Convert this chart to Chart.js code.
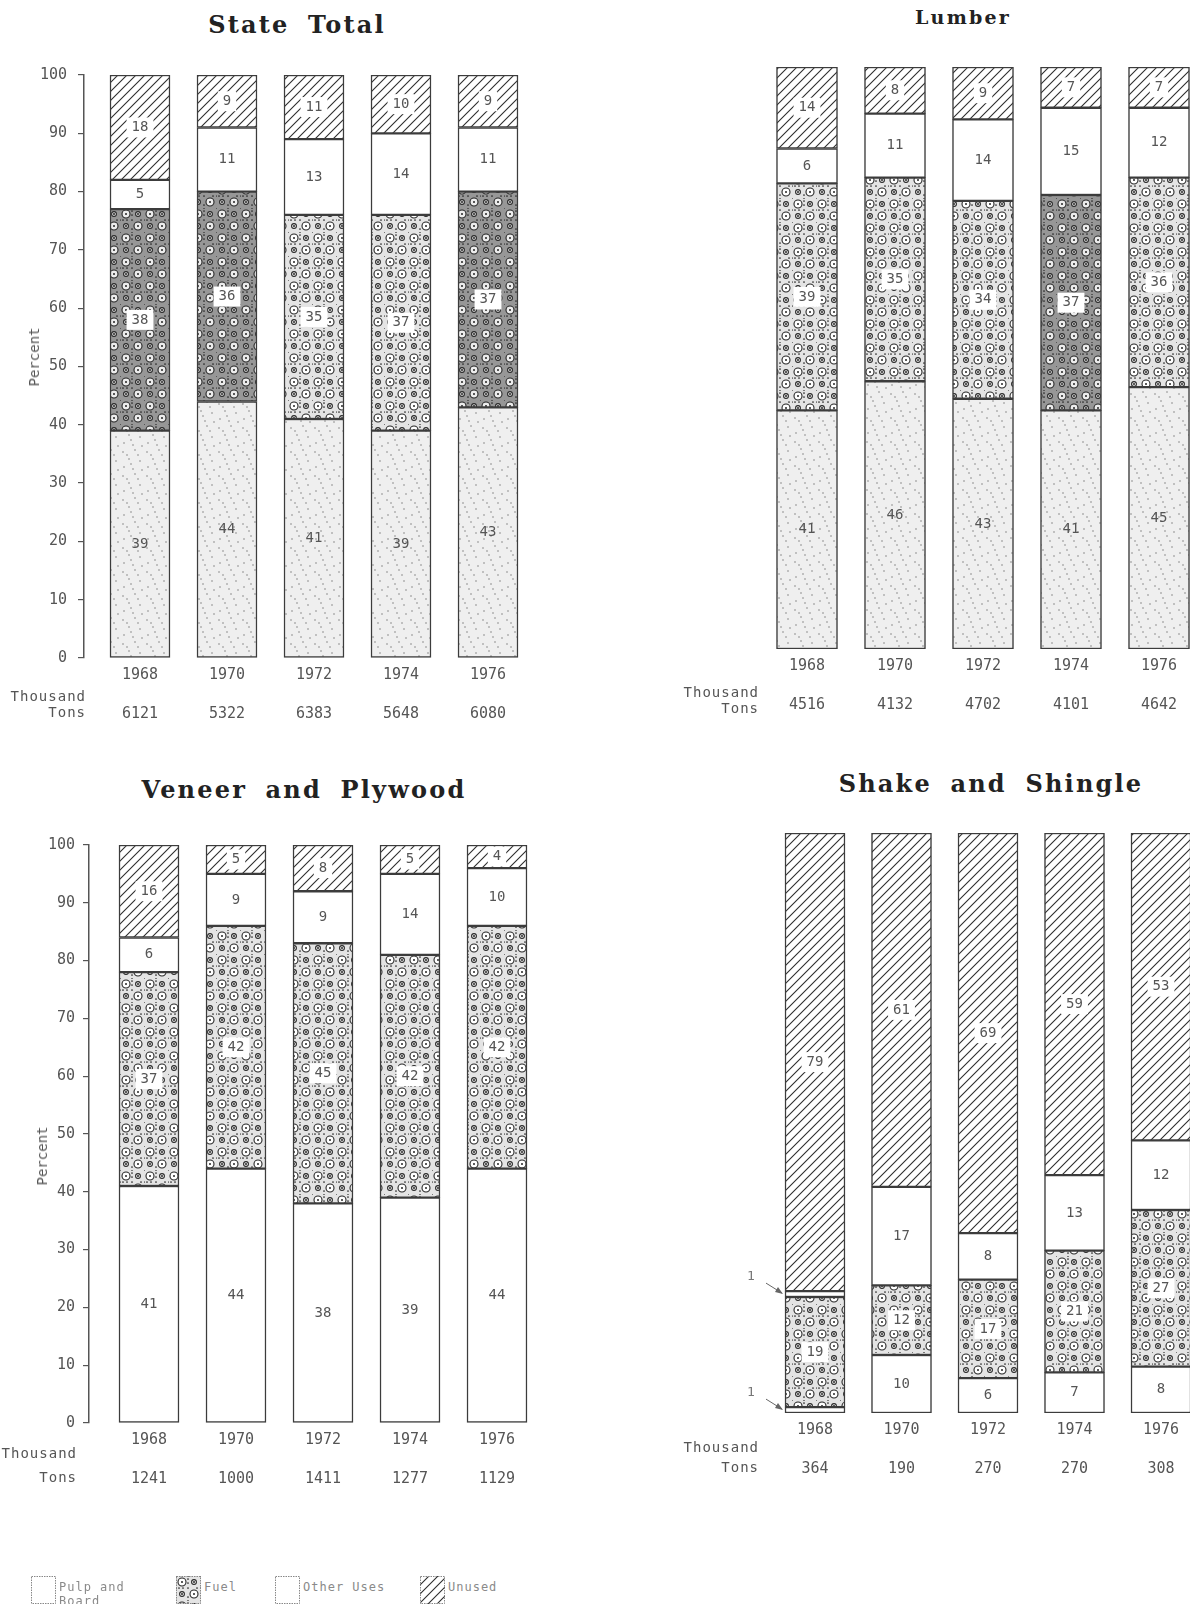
<!DOCTYPE html>
<html>
<head>
<meta charset="utf-8">
<script src="https://cdn.jsdelivr.net/npm/chart.js@4.4.0/dist/chart.umd.min.js"></script>
<style>
  body { margin: 0; background: #fff; width: 1190px; height: 1604px; position: relative; overflow: hidden; }
  canvas { position: absolute; }
  .title { position: absolute; transform: translate(-50%, -50%); white-space: nowrap;
    font-family: "DejaVu Serif", serif; font-weight: bold; font-size: 24px; letter-spacing: 2.2px; word-spacing: 8px; color: #222; }
  .txt { position: absolute; white-space: nowrap; font-family: "DejaVu Sans Mono", monospace; font-size: 14px; color: #555; line-height: 16px; }
  .right { text-align: right; letter-spacing: 1px; }
  .rot { transform: translate(-50%, -50%) rotate(-90deg); }
  .legend { color: #8a8a8a; font-size: 12px; line-height: 14px; letter-spacing: 1px; }
</style>
</head>
<body>
<script>
const years = ["1968", "1970", "1972", "1974", "1976"];
const seriesNames = ["Pulp and Board", "Fuel", "Other Uses", "Unused"];

// State Total
const stateTons = [6121, 5322, 6383, 5648, 6080];
const statePulp = [39, 44, 41, 39, 43];
const stateFuel = [38, 36, 35, 37, 37];
const stateOther = [5, 11, 13, 14, 11];
const stateUnused = [18, 9, 11, 10, 9];

// Lumber
const lumberTons = [4516, 4132, 4702, 4101, 4642];
const lumberPulp = [41, 46, 43, 41, 45];
const lumberFuel = [39, 35, 34, 37, 36];
const lumberOther = [6, 11, 14, 15, 12];
const lumberUnused = [14, 8, 9, 7, 7];

// Veneer and Plywood
const veneerTons = [1241, 1000, 1411, 1277, 1129];
const veneerPulp = [41, 44, 38, 39, 44];
const veneerFuel = [37, 42, 45, 42, 42];
const veneerOther = [6, 9, 9, 14, 10];
const veneerUnused = [16, 5, 8, 5, 4];

// Shake and Shingle
const shakeTons = [364, 190, 270, 270, 308];
const shakePulp = [1, 10, 6, 7, 8];
const shakeFuel = [19, 12, 17, 21, 27];
const shakeOther = [1, 17, 8, 13, 12];
const shakeUnused = [79, 61, 69, 59, 53];

const MONO = '"DejaVu Sans Mono", monospace';

const panels = [
  { title: "State Total", titleAt: [297, 24], titleSize: 24, tons: stateTons,
    values: [statePulp, stateFuel, stateOther, stateUnused],
    box: { x: 0, y: 40, w: 560, h: 690 }, area: { left: 84, right: 545, top: 75, bottom: 658 },
    first: 140, step: 87, barWidth: 60, yAxis: true, tickPad: 11, stipple: true,
    darkFuel: [true, true, false, false, true] },
  { title: "Lumber", titleAt: [963, 17], titleSize: 19, tons: lumberTons,
    values: [lumberPulp, lumberFuel, lumberOther, lumberUnused],
    box: { x: 600, y: 30, w: 590, h: 690 }, area: { left: 760, right: 1190, top: 67, bottom: 649 },
    first: 807, step: 88, barWidth: 61, yAxis: false, stipple: true,
    darkFuel: [false, false, false, true, false] },
  { title: "Veneer and Plywood", titleAt: [304, 789], titleSize: 24, tons: veneerTons,
    values: [veneerPulp, veneerFuel, veneerOther, veneerUnused],
    box: { x: 0, y: 810, w: 560, h: 690 }, area: { left: 89, right: 545, top: 845, bottom: 1423 },
    first: 149, step: 87, barWidth: 60, yAxis: true, tickPad: 8, stipple: false,
    darkFuel: [false, false, false, false, false] },
  { title: "Shake and Shingle", titleAt: [991, 783], titleSize: 24, tons: shakeTons,
    values: [shakePulp, shakeFuel, shakeOther, shakeUnused],
    box: { x: 600, y: 800, w: 590, h: 700 }, area: { left: 760, right: 1190, top: 833, bottom: 1413 },
    first: 815, step: 86.5, barWidth: 60, yAxis: false, stipple: false,
    darkFuel: [false, false, false, false, false], arrows: true }
];

// ---- fill patterns ----
function tile(w, h, draw) {
  const c = document.createElement("canvas");
  c.width = w;
  c.height = h;
  draw(c.getContext("2d"));
  return c;
}

function dot(g, x, y, r, color) {
  g.fillStyle = color;
  g.beginPath();
  g.arc(x, y, r, 0, Math.PI * 2);
  g.fill();
}

function ring(g, x, y, r, stroke, fill) {
  g.beginPath();
  g.arc(x, y, r, 0, Math.PI * 2);
  g.fillStyle = fill;
  g.fill();
  g.strokeStyle = stroke;
  g.lineWidth = 1.1;
  g.stroke();
  dot(g, x, y, 1, stroke);
}

const hatchTile = tile(9, 9, (g) => {
  g.fillStyle = "#fff";
  g.fillRect(0, 0, 9, 9);
  g.strokeStyle = "#2e2e2e";
  g.lineWidth = 1.1;
  g.beginPath();
  g.moveTo(-1, 10); g.lineTo(10, -1);
  g.moveTo(-2, 2); g.lineTo(2, -2);
  g.moveTo(7, 11); g.lineTo(11, 7);
  g.stroke();
});

const stippleTile = tile(24, 24, (g) => {
  g.fillStyle = "#efefef";
  g.fillRect(0, 0, 24, 24);
  [[3, 4], [15, 2], [9, 11], [20, 13], [4, 19], [13, 21], [22, 22], [7, 7], [18, 7], [11, 16]].forEach(([x, y]) =>
    dot(g, x, y, 0.75, "#7a7a7a"));
});

function fuelTile(dark) {
  return tile(24, 24, (g) => {
    g.fillStyle = dark ? "#979797" : "#e4e4e4";
    g.fillRect(0, 0, 24, 24);
    const ink = "#262626";
    const inner = dark ? "#ececec" : "#ffffff";
    ring(g, 6, 6, 4, ink, inner);
    ring(g, 18, 18, 4, ink, inner);
    ring(g, 18, 6, 2.4, ink, inner);
    ring(g, 6, 18, 2.4, ink, inner);
    [[12, 12], [0, 12], [12, 0], [12, 3], [3, 12], [21, 12], [12, 21], [0, 0], [12, 7], [7, 12]].forEach(([x, y]) =>
      dot(g, x, y, 0.85, ink));
  });
}
const fuelLightTile = fuelTile(false);
const fuelDarkTile = fuelTile(true);

// ---- plugins ----
const segmentLabels = {
  id: "segmentLabels",
  afterDatasetsDraw(chart) {
    const ctx = chart.ctx;
    ctx.save();
    ctx.font = "14px " + MONO;
    ctx.textAlign = "center";
    ctx.textBaseline = "middle";
    chart.data.datasets.forEach((ds, di) => {
      chart.getDatasetMeta(di).data.forEach((bar, i) => {
        const v = ds.data[i].y;
        if (v < 3) return;
        const cy = (bar.y + bar.base) / 2;
        const text = String(v);
        // patterned segments get a white patch behind the number
        if (di !== 0) {
          const w = ctx.measureText(text).width + 10;
          ctx.fillStyle = "#fff";
          ctx.fillRect(bar.x - w / 2, cy - 10, w, 20);
        }
        ctx.fillStyle = "#555";
        ctx.fillText(text, bar.x, cy);
      });
    });
    ctx.restore();
  }
};

// tiny shares (1%) are pointed at from the left instead of being labelled inside
const smallShares = {
  id: "smallShares",
  afterDatasetsDraw(chart) {
    const ctx = chart.ctx;
    ctx.save();
    ctx.font = "13px " + MONO;
    ctx.textAlign = "center";
    ctx.textBaseline = "middle";
    chart.data.datasets.forEach((ds, di) => {
      chart.getDatasetMeta(di).data.forEach((bar, i) => {
        const v = ds.data[i].y;
        if (v >= 3) return;
        const left = bar.x - bar.width / 2;
        const mid = (bar.y + bar.base) / 2;
        ctx.fillStyle = "#777";
        ctx.fillText(String(v), left - 34, mid - 17);
        ctx.strokeStyle = "#666";
        ctx.lineWidth = 1;
        ctx.beginPath();
        ctx.moveTo(left - 19, mid - 11);
        ctx.lineTo(left - 3, mid - 1);
        ctx.stroke();
        ctx.fillStyle = "#666";
        ctx.beginPath();
        ctx.moveTo(left - 2, mid);
        ctx.lineTo(left - 10, mid - 2);
        ctx.lineTo(left - 7, mid - 7);
        ctx.closePath();
        ctx.fill();
      });
    });
    ctx.restore();
  }
};

// ---- charts ----
function addText(text, x, y, cls, extra) {
  const d = document.createElement("div");
  d.className = cls;
  d.innerHTML = text;
  d.style.left = x + "px";
  d.style.top = y + "px";
  Object.assign(d.style, extra || {});
  document.body.appendChild(d);
  return d;
}

function buildChart(p) {
  const canvas = document.createElement("canvas");
  canvas.width = p.box.w;
  canvas.height = p.box.h;
  canvas.style.left = p.box.x + "px";
  canvas.style.top = p.box.y + "px";
  document.body.appendChild(canvas);
  const ctx = canvas.getContext("2d");

  const hatch = ctx.createPattern(hatchTile, "repeat");
  const stipple = ctx.createPattern(stippleTile, "repeat");
  const fuelLight = ctx.createPattern(fuelLightTile, "repeat");
  const fuelDark = ctx.createPattern(fuelDarkTile, "repeat");

  const fills = [
    p.stipple ? stipple : "#ffffff",
    p.darkFuel.map((d) => (d ? fuelDark : fuelLight)),
    "#ffffff",
    hatch
  ];

  const datasets = seriesNames.map((name, s) => ({
    label: name,
    data: p.values[s].map((v, i) => ({ x: i, y: v })),
    backgroundColor: fills[s],
    borderColor: "#3c3c3c",
    borderWidth: 1.5,
    borderSkipped: false,
    barThickness: p.barWidth
  }));

  const tickFont = { family: MONO, size: 15, lineHeight: 1.27 };

  const yScale = {
    display: p.yAxis,
    stacked: true,
    min: 0,
    max: 100,
    grid: { drawOnChartArea: false, tickLength: 6, color: "#555", lineWidth: 1.2 },
    border: { display: true, color: "#555", width: 1.5 },
    ticks: { stepSize: 10, padding: p.tickPad || 0, color: "#555", font: tickFont }
  };
  if (p.yAxis) {
    yScale.afterFit = (axis) => {
      axis.width = p.area.left - p.box.x;
    };
  }

  new Chart(ctx, {
    type: "bar",
    data: { datasets: datasets },
    options: {
      responsive: false,
      animation: false,
      layout: {
        padding: {
          left: p.yAxis ? 0 : p.area.left - p.box.x,
          right: p.box.x + p.box.w - p.area.right,
          top: p.area.top - p.box.y,
          bottom: 0
        }
      },
      plugins: { legend: { display: false }, tooltip: { enabled: false } },
      scales: {
        x: {
          type: "linear",
          stacked: true,
          offset: false,
          bounds: "data",
          min: -(p.first - p.area.left) / p.step,
          max: (p.area.right - p.first) / p.step,
          grid: { display: false, drawTicks: false },
          border: { display: false },
          afterBuildTicks: (axis) => {
            axis.ticks = years.map((_, i) => ({ value: i }));
          },
          afterFit: (axis) => {
            axis.height = p.box.y + p.box.h - p.area.bottom;
          },
          ticks: {
            autoSkip: false,
            maxRotation: 0,
            padding: 8,
            color: "#555",
            font: tickFont,
            callback: (v) => [years[v], "", String(p.tons[v])]
          }
        },
        y: yScale
      }
    },
    plugins: p.arrows ? [segmentLabels, smallShares] : [segmentLabels]
  });

  addText(p.title, p.titleAt[0], p.titleAt[1], "title", { fontSize: p.titleSize + "px" });
}

panels.forEach(buildChart);

// axis captions
addText("Percent", 34, 357, "txt rot");
addText("Percent", 42, 1156, "txt rot");
addText("Thousand<br>Tons", 0, 688, "txt right", { width: "86px", lineHeight: "16px" });
addText("Thousand<br>Tons", 660, 684, "txt right", { width: "99px", lineHeight: "16px" });
addText("Thousand<br>Tons", 0, 1441, "txt right", { width: "77px", lineHeight: "24px" });
addText("Thousand<br>Tons", 660, 1437, "txt right", { width: "99px", lineHeight: "20px" });

// legend
const legendItems = [
  { name: "Pulp and<br>Board", x: 31, fill: null },
  { name: "Fuel", x: 176, fill: fuelLightTile },
  { name: "Other Uses", x: 275, fill: null },
  { name: "Unused", x: 420, fill: hatchTile }
];
legendItems.forEach((item) => {
  const c = document.createElement("canvas");
  c.width = 25;
  c.height = 28;
  c.style.left = item.x + "px";
  c.style.top = "1576px";
  document.body.appendChild(c);
  const g = c.getContext("2d");
  g.fillStyle = item.fill ? g.createPattern(item.fill, "repeat") : "#fff";
  g.fillRect(0, 0, 25, 28);
  g.strokeStyle = "#888";
  g.setLineDash([1.5, 1]);
  g.strokeRect(0.5, 0.5, 24, 27);
  addText(item.name, item.x + 28, 1580, "txt legend");
});
</script>
</body>
</html>
